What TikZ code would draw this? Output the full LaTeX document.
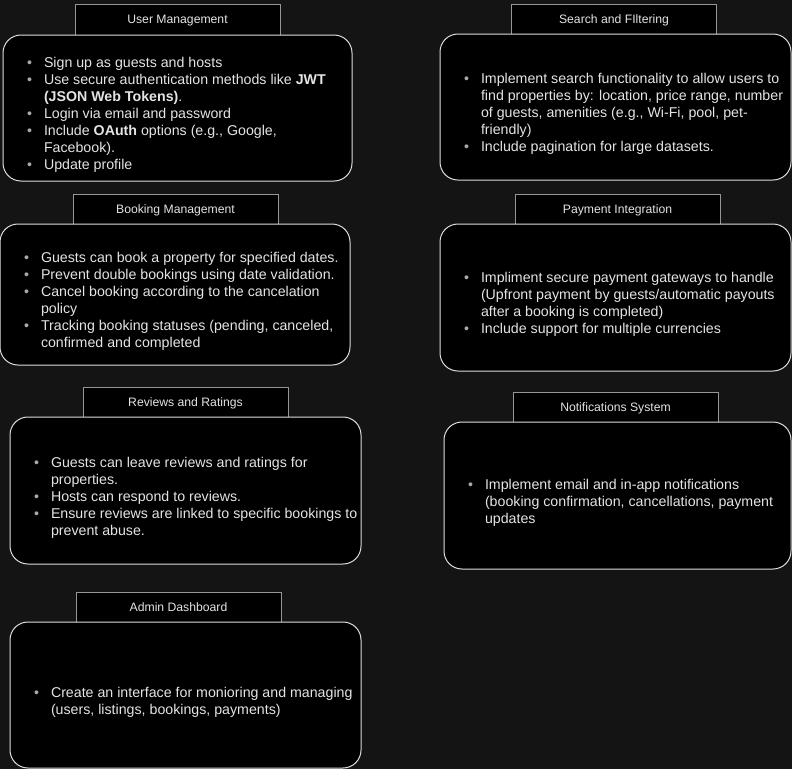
\documentclass[tikz,border=0pt]{standalone}
\usepackage{fontspec}
\setmainfont{Liberation Sans}
\usepackage{xcolor}
\usepackage{enumitem}
\usetikzlibrary{positioning}
\definecolor{bgdark}{RGB}{20, 20, 20}
\definecolor{panelline}{RGB}{222, 222, 222}
\definecolor{tabline}{RGB}{150, 150, 150}
\definecolor{textlight}{RGB}{228, 228, 228}
\definecolor{bulletgray}{RGB}{170, 170, 170}

\setlist[itemize]{label={\textcolor{bulletgray}{\textbullet}}, leftmargin=41pt, labelsep=12pt,
  itemsep=0pt, topsep=0pt, parsep=0pt, partopsep=0pt, rightmargin=0pt}
\newcommand{\paneltext}[2]{\begin{minipage}{#1}\raggedright\vspace*{14pt}
\begin{itemize}#2\end{itemize}\end{minipage}}

\tikzset{
  tab/.style={draw=tabline, line width=1pt, fill=black, text=textlight, outer sep=0pt,
    minimum width=205pt, minimum height=30pt, inner sep=0pt, text height=8.7pt, text depth=0pt,
    font=\fontsize{12.2}{14}\selectfont},
  panel/.style={draw=panelline, line width=1pt, fill=black, text=textlight, outer sep=0pt,
    rounded corners=18pt, inner sep=0pt, font=\fontsize{14.2}{17}\selectfont}
}

\begin{document}
\begin{tikzpicture}[x=1pt, y=-1pt]
\useasboundingbox (0,0) rectangle (792,769);
\fill[bgdark] (0,0) rectangle (792,769);

% left column
\node[tab, minimum height=31pt] (usermgmt) at (177.5,19.5) {User Management};
\node[panel, minimum width=349pt, minimum height=146pt, below=0pt of usermgmt] (userbody) {\paneltext{349pt}{
\item Sign up as guests and hosts
\item Use secure authentication methods like \textbf{JWT}\\ \textbf{(JSON Web Tokens)}.
\item Login via email and password
\item Include \textbf{OAuth} options (e.g., Google,\\ Facebook).
\item Update profile}};

\node[tab] (bookmgmt) at (175.5,209) {Booking Management};
\node[panel, minimum width=350pt, minimum height=141pt, below=0pt of bookmgmt, xshift=-0.5pt] (bookbody) {\paneltext{350pt}{
\item Guests can book a property for specified dates.
\item Prevent double bookings using date validation.
\item Cancel booking according to the cancelation\\ policy
\item Tracking booking statuses (pending, canceled,\\ confirmed and completed}};

\node[tab] (reviews) at (185.5,402) {Reviews and Ratings};
\node[panel, minimum width=351pt, minimum height=147pt, below=0pt of reviews] (reviewbody) {\paneltext{351pt}{
\item Guests can leave reviews and ratings for\\ properties.
\item Hosts can respond to reviews.
\item Ensure reviews are linked to specific bookings to\\ prevent abuse.}};

\node[tab] (admin) at (178.5,607) {Admin Dashboard};
\node[panel, minimum width=351pt, minimum height=146pt, below=0pt of admin, xshift=7pt] (adminbody) {\paneltext{351pt}{
\item Create an interface for monioring and managing\\ (users, listings, bookings, payments)}};

% right column
\node[tab] (search) at (614,19) {Search and FIltering};
\node[panel, minimum width=351pt, minimum height=146pt, below=0pt of search, xshift=1.5pt] (searchbody) {\paneltext{351pt}{
\item Implement search functionality to allow users to\\ find properties by: location, price range, number\\ of guests, amenities (e.g., Wi-Fi, pool, pet-\\friendly)
\item Include pagination for large datasets.}};

\node[tab] (payment) at (617.5,209) {Payment Integration};
\node[panel, minimum width=351pt, minimum height=147pt, below=0pt of payment, xshift=-2pt] (paybody) {\paneltext{351pt}{
\item Impliment secure payment gateways to handle\\ (Upfront payment by guests/automatic payouts\\ after a booking is completed)
\item Include support for multiple currencies}};

\node[tab] (notify) at (615.5,407) {Notifications System};
\node[panel, minimum width=347pt, minimum height=147pt, below=0pt of notify, xshift=2pt] (notifybody) {\paneltext{347pt}{
\item Implement email and in-app notifications\\ (booking confirmation, cancellations, payment\\ updates}};
\end{tikzpicture}
\end{document}
